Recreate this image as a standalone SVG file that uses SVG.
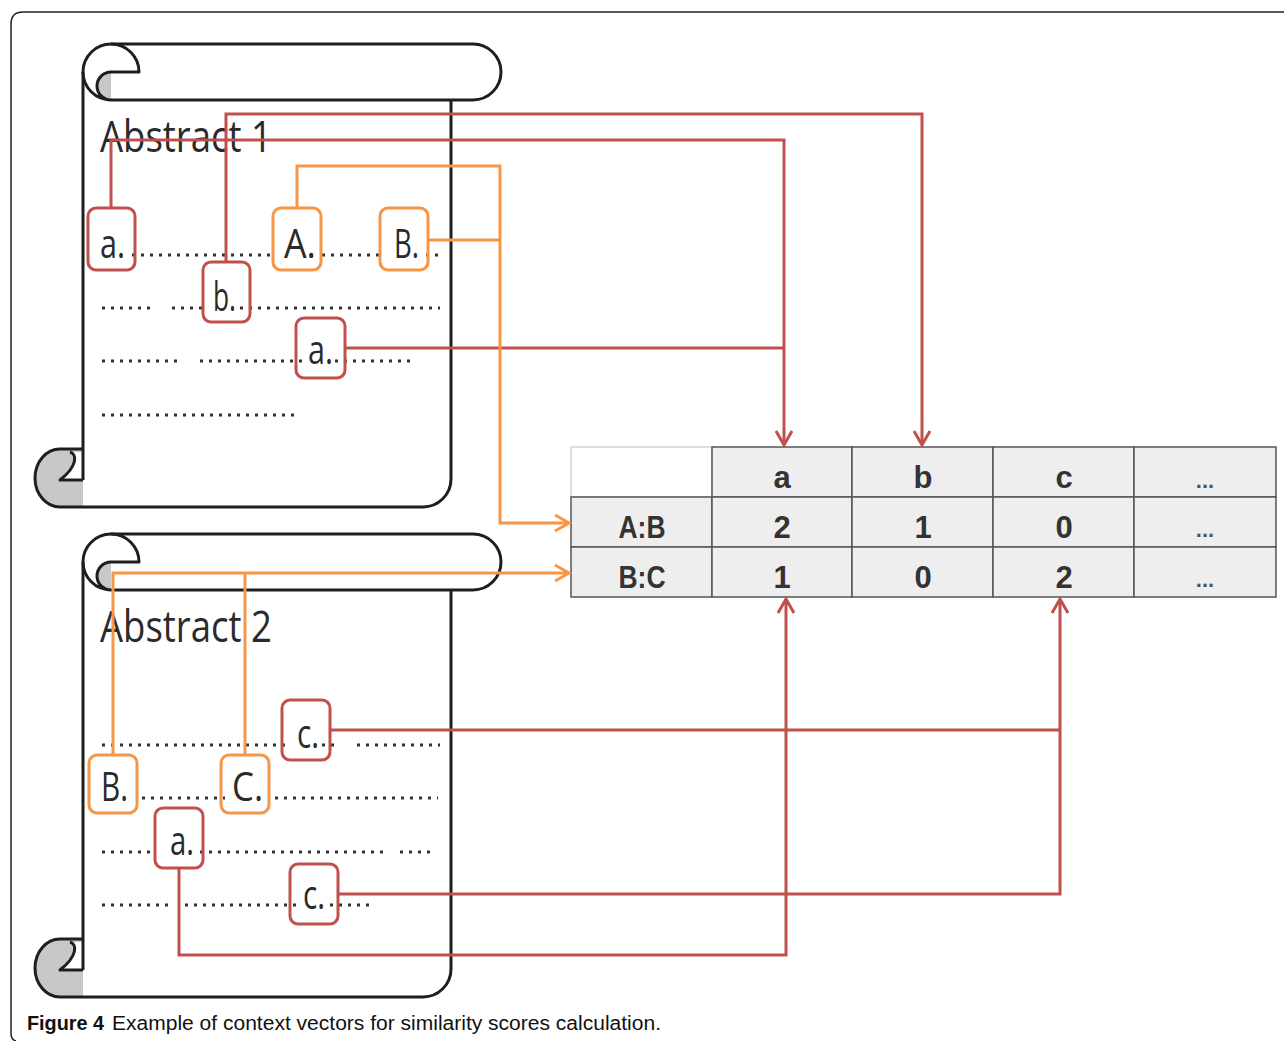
<svg xmlns="http://www.w3.org/2000/svg" xmlns:xlink="http://www.w3.org/1999/xlink" width="1284" height="1041" viewBox="0 0 1284 1041">
<style>
.wf{fill:#fff;stroke:none}
.gf{fill:#c8c8c8;stroke:none}
.st{fill:none;stroke:#1e1e1e;stroke-width:3;stroke-linejoin:round}
.dots{fill:none;stroke:#333;stroke-width:3;stroke-dasharray:3 6}
.bR{fill:none;stroke:#C0504D;stroke-width:3}
.bO{fill:none;stroke:#F79646;stroke-width:3}
.lab{font-family:"Open Sans","Noto Sans",sans-serif;font-size:40px;fill:#2a2a2a}
.ttl{font-family:"Open Sans","Noto Sans",sans-serif;font-size:44px;fill:#2a2a2a}
.cR{fill:none;stroke:#C0504D;stroke-width:3}
.cO{fill:none;stroke:#F79646;stroke-width:3}
.cell{fill:#eeeeee;stroke:#555;stroke-width:1.5}
.cell0{fill:#fff;stroke:#d4d4d4;stroke-width:1.5}
.tt{font-family:"Liberation Sans",Arial,sans-serif;font-weight:bold;font-size:31px;fill:#333;text-anchor:middle}
.td{font-family:"Liberation Sans",Arial,sans-serif;font-weight:bold;font-size:22px;fill:#555;text-anchor:middle}
.cap{font-family:"Liberation Sans",Arial,sans-serif;font-size:20px;fill:#111}
</style>
<defs>
<marker id="arR" markerUnits="userSpaceOnUse" markerWidth="24" markerHeight="24" viewBox="-2 -12 24 24" refX="15" refY="0" orient="auto">
<path d="M1,-8 L15,0 L1,8" fill="none" stroke="#C0504D" stroke-width="3"/>
</marker>
<marker id="arO" markerUnits="userSpaceOnUse" markerWidth="24" markerHeight="24" viewBox="-2 -12 24 24" refX="15" refY="0" orient="auto">
<path d="M1,-8 L15,0 L1,8" fill="none" stroke="#F79646" stroke-width="3"/>
</marker>
<g id="scrollShape">
<path class="wf" d="M83,72 H451 V479 A28,28 0 0 1 423,507 H83 Z"/>
<path class="wf" d="M111,44 H473 A28,28 0 0 1 473,100 H111 Z"/>
<circle class="wf" cx="111" cy="72" r="28"/>
<path class="gf" d="M83,449 H60 A25,29 0 0 0 60,507 H83 Z"/>
<path class="gf" d="M111,72 A14,14 0 0 0 111,100 Z"/>
<path class="wf" d="M83,452 H70 C77,454 78,466 60,480 H83 Z"/>
<path class="st" d="M111,44 H473 A28,28 0 0 1 473,100 H111"/>
<path class="st" d="M111,100 A28,28 0 1 1 139,72 H111 A14,14 0 0 0 111,100"/>
<path class="st" d="M83,72 V480"/>
<path class="st" d="M451,100 V479 A28,28 0 0 1 423,507 H60 A25,29 0 0 1 60,449 H83"/>
<path class="st" d="M70,452 C77,454 78,466 60,480 H83"/>
</g>
</defs>

<path d="M16,1041 Q11,1040 11,1033 V24 Q11,12 23,12 H1284" fill="none" stroke="#222" stroke-width="1.5"/>

<g id="abstract1">
<use xlink:href="#scrollShape" href="#scrollShape"/>
<text class="ttl" x="100" y="152" textLength="172" lengthAdjust="spacingAndGlyphs">Abstract 1</text>
<path class="dots" d="M132,255 H272 M322,255 H383 M426,255 H440 M102,308 H155 M172,308 H208 M240,308 H440 M102,361 H183 M200,361 H302 M335,361 H416 M102,415 H300"/>
</g>

<g id="abstract2">
<use xlink:href="#scrollShape" href="#scrollShape" transform="translate(0,490)"/>
<text class="ttl" x="100" y="642" textLength="172" lengthAdjust="spacingAndGlyphs">Abstract 2</text>
<path class="dots" d="M102,745 H285 M322,745 H338 M357,745 H440 M142,798 H225 M275,798 H438 M102,852 H152 M200,852 H383 M400,852 H433 M102,905 H173 M185,905 H297 M330,905 H373"/>
</g>

<g id="table">
<rect class="cell0" x="571" y="447" width="141" height="50"/>
<rect class="cell" x="712" y="447" width="140" height="50"/>
<rect class="cell" x="852" y="447" width="141" height="50"/>
<rect class="cell" x="993" y="447" width="141" height="50"/>
<rect class="cell" x="1134" y="447" width="142" height="50"/>
<rect class="cell" x="571" y="497" width="141" height="50"/>
<rect class="cell" x="712" y="497" width="140" height="50"/>
<rect class="cell" x="852" y="497" width="141" height="50"/>
<rect class="cell" x="993" y="497" width="141" height="50"/>
<rect class="cell" x="1134" y="497" width="142" height="50"/>
<rect class="cell" x="571" y="547" width="141" height="50"/>
<rect class="cell" x="712" y="547" width="140" height="50"/>
<rect class="cell" x="852" y="547" width="141" height="50"/>
<rect class="cell" x="993" y="547" width="141" height="50"/>
<rect class="cell" x="1134" y="547" width="142" height="50"/>
<text class="tt" x="782" y="488">a</text>
<text class="tt" x="923" y="488">b</text>
<text class="tt" x="1064" y="488">c</text>
<text class="td" x="1205" y="488">...</text>
<text class="tt" x="642" y="538" textLength="47" lengthAdjust="spacingAndGlyphs">A:B</text>
<text class="tt" x="782" y="538">2</text>
<text class="tt" x="923" y="538">1</text>
<text class="tt" x="1064" y="538">0</text>
<text class="td" x="1205" y="537">...</text>
<text class="tt" x="642" y="588" textLength="47" lengthAdjust="spacingAndGlyphs">B:C</text>
<text class="tt" x="782" y="588">1</text>
<text class="tt" x="923" y="588">0</text>
<text class="tt" x="1064" y="588">2</text>
<text class="td" x="1205" y="587">...</text>
</g>

<g id="connectors">
<path class="cR" d="M111,208 V140 H784 V445" marker-end="url(#arR)"/>
<path class="cR" d="M345,348 H784"/>
<path class="cR" d="M226,262 V114 H922 V445" marker-end="url(#arR)"/>
<path class="cR" d="M338,894 H1060 V599" marker-end="url(#arR)"/>
<path class="cR" d="M330,730 H1060"/>
<path class="cR" d="M179,868 V955 H786 V599" marker-end="url(#arR)"/>
<path class="cO" d="M297,208 V166 H500 V523 H569" marker-end="url(#arO)"/>
<path class="cO" d="M428,240 H500"/>
<path class="cO" d="M113,755 V573 H569" marker-end="url(#arO)"/>
<path class="cO" d="M245,755 V573"/>
</g>

<g id="term-a1-a">
<rect class="bR" x="88" y="208" width="47" height="62" rx="8"/>
<text class="lab" x="100" y="258" textLength="25" lengthAdjust="spacingAndGlyphs">a.</text>
</g>
<g id="term-a1-b">
<rect class="bR" x="203" y="262" width="47" height="60" rx="8"/>
<text class="lab" x="213" y="311" textLength="23" lengthAdjust="spacingAndGlyphs">b.</text>
</g>
<g id="term-a1-A">
<rect class="bO" x="273" y="208" width="48" height="62" rx="8"/>
<text class="lab" x="284" y="258" textLength="32" lengthAdjust="spacingAndGlyphs">A.</text>
</g>
<g id="term-a1-B">
<rect class="bO" x="380" y="208" width="48" height="62" rx="8"/>
<text class="lab" x="394" y="258" textLength="25" lengthAdjust="spacingAndGlyphs">B.</text>
</g>
<g id="term-a1-a2">
<rect class="bR" x="296" y="318" width="49" height="60" rx="8"/>
<text class="lab" x="308" y="364" textLength="25" lengthAdjust="spacingAndGlyphs">a.</text>
</g>
<g id="term-a2-c1">
<rect class="bR" x="282" y="700" width="48" height="60" rx="8"/>
<text class="lab" x="297" y="748" textLength="22" lengthAdjust="spacingAndGlyphs">c.</text>
</g>
<g id="term-a2-B">
<rect class="bO" x="89" y="755" width="48" height="58" rx="8"/>
<text class="lab" x="101" y="801" textLength="27" lengthAdjust="spacingAndGlyphs">B.</text>
</g>
<g id="term-a2-C">
<rect class="bO" x="221" y="755" width="48" height="58" rx="8"/>
<text class="lab" x="232" y="801" textLength="31" lengthAdjust="spacingAndGlyphs">C.</text>
</g>
<g id="term-a2-a">
<rect class="bR" x="155" y="808" width="48" height="60" rx="8"/>
<text class="lab" x="170" y="855" textLength="24" lengthAdjust="spacingAndGlyphs">a.</text>
</g>
<g id="term-a2-c2">
<rect class="bR" x="290" y="864" width="48" height="60" rx="8"/>
<text class="lab" x="303" y="909" textLength="22" lengthAdjust="spacingAndGlyphs">c.</text>
</g>

<g id="caption">
<text class="cap" x="27" y="1030" font-weight="bold" textLength="77" lengthAdjust="spacingAndGlyphs">Figure 4</text>
<text class="cap" x="112" y="1030" textLength="549" lengthAdjust="spacingAndGlyphs">Example of context vectors for similarity scores calculation.</text>
</g>
</svg>
